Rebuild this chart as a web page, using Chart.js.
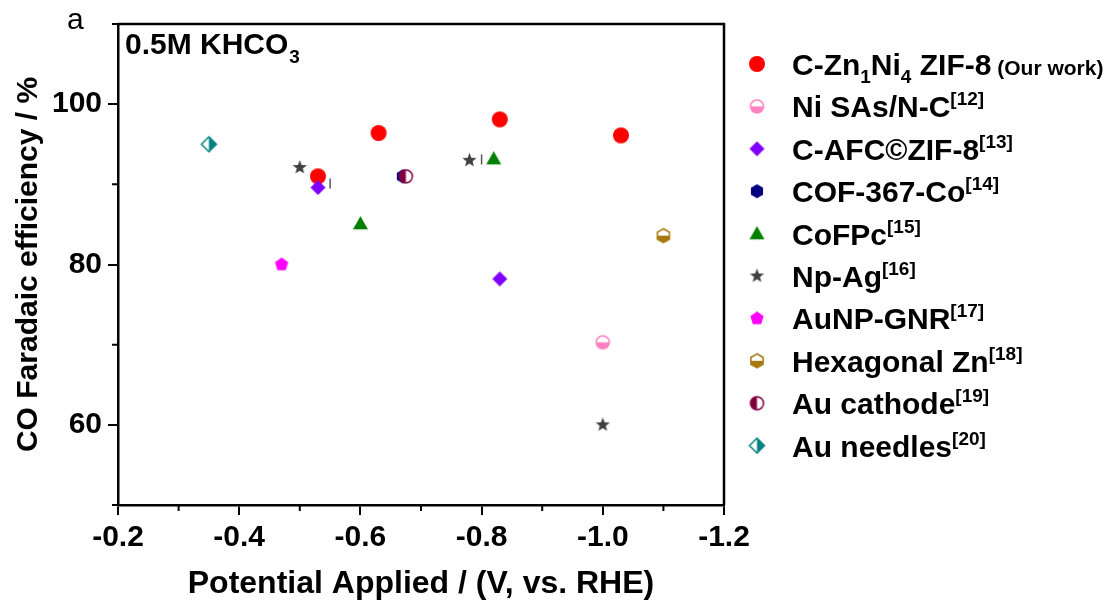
<!DOCTYPE html>
<html lang="en">
<head>
    <meta charset="UTF-8">
    <title>CO Faradaic efficiency vs potential</title>
    <style>
        body { margin: 0; background: #fff; }
        #wrap { width: 1118px; height: 608px; }
    </style>
</head>
<body>
    <div id="wrap"><canvas id="feChart"></canvas></div>

    <script src="https://cdn.jsdelivr.net/npm/chart.js"></script>
    <script>
        // axis ticks
        const xMajorTicks = [-0.2, -0.4, -0.6, -0.8, -1.0, -1.2];
        const xMinorTicks = [-0.3, -0.5, -0.7, -0.9, -1.1];
        const yMajorTicks = [60, 80, 100];
        const yMinorTicks = [50, 70, 90, 110];

        // data (potential V vs RHE, FE %)
        const ourWorkX = [-0.53, -0.63, -0.83, -1.03];
        const ourWorkY = [91.0, 96.4, 98.1, 96.1];
        const niSasX = [-1.0];
        const niSasY = [70.3];
        const afcX = [-0.53, -0.83];
        const afcY = [89.6, 78.2];
        const cofX = [-0.67];
        const cofY = [91.0];
        const cofpcX = [-0.60, -0.82];
        const cofpcY = [85.1, 93.2];
        const npAgX = [-0.50, -0.78, -1.0];
        const npAgY = [92.1, 93.0, 60.0];
        const aunpX = [-0.47];
        const aunpY = [80.0];
        const hexZnX = [-1.10];
        const hexZnY = [83.6];
        const auCathX = [-0.675];
        const auCathY = [91.0];
        const auNeedX = [-0.35];
        const auNeedY = [95.0];
        // the two little bar marks next to some points
        const barX = [-0.55, -0.80];
        const barY = [90.1, 93.1];

        // legend labels, [text, kind]
        const legendLabels = [
            [['C-Zn', 'n'], ['1', 'sub'], ['Ni', 'n'], ['4', 'sub'], [' ZIF-8', 'n'], [' (Our work)', 'small']],
            [['Ni SAs/N-C', 'n'], ['[12]', 'sup']],
            [['C-AFC\u00A9ZIF-8', 'n'], ['[13]', 'sup']],
            [['COF-367-Co', 'n'], ['[14]', 'sup']],
            [['CoFPc', 'n'], ['[15]', 'sup']],
            [['Np-Ag', 'n'], ['[16]', 'sup']],
            [['AuNP-GNR', 'n'], ['[17]', 'sup']],
            [['Hexagonal Zn', 'n'], ['[18]', 'sup']],
            [['Au cathode', 'n'], ['[19]', 'sup']],
            [['Au needles', 'n'], ['[20]', 'sup']]
        ];

        const FONT = '"Liberation Sans", Arial, sans-serif';

        // build a marker image (shape, colour, which part is filled)
        function makeMarker(shape, color, fillPart, size) {
            const c = document.createElement('canvas');
            c.width = c.height = size + 4;
            const g = c.getContext('2d');
            const m = (size + 4) / 2, r = size / 2;
            g.translate(m, m);
            g.beginPath();
            if (shape === 'circle') {
                g.arc(0, 0, r, 0, Math.PI * 2);
            } else if (shape === 'diamond') {
                g.moveTo(0, -r); g.lineTo(r, 0); g.lineTo(0, r); g.lineTo(-r, 0);
            } else if (shape === 'triangle') {
                g.moveTo(0, -r); g.lineTo(r, r * 0.75); g.lineTo(-r, r * 0.75);
            } else if (shape === 'star') {
                for (let k = 0; k < 10; k++) {
                    const a = -Math.PI / 2 + k * Math.PI / 5;
                    const rr = k % 2 ? r * 0.42 : r;
                    g.lineTo(rr * Math.cos(a), rr * Math.sin(a));
                }
            } else {
                const n = shape === 'pentagon' ? 5 : 6;
                for (let k = 0; k < n; k++) {
                    const a = -Math.PI / 2 + k * 2 * Math.PI / n;
                    g.lineTo(r * Math.cos(a), r * Math.sin(a));
                }
            }
            g.closePath();
            if (fillPart === 'full') {
                g.fillStyle = color;
                g.fill();
            } else {
                g.fillStyle = '#fff';
                g.fill();
                g.save();
                g.clip();
                g.fillStyle = color;
                if (fillPart === 'bottom') g.fillRect(-m, 0, 2 * m, m);
                if (fillPart === 'left') g.fillRect(-m, -m, m, 2 * m);
                if (fillPart === 'right') g.fillRect(0, -m, m, 2 * m);
                g.restore();
                g.strokeStyle = color;
                g.lineWidth = 1.5;
                g.stroke();
            }
            return c;
        }

        const markers = [
            makeMarker('circle', '#ff0000', 'full', 16),
            makeMarker('circle', '#ff80c0', 'bottom', 13),
            makeMarker('diamond', '#8000ff', 'full', 15),
            makeMarker('hexagon', '#000080', 'full', 14),
            makeMarker('triangle', '#008000', 'full', 15),
            makeMarker('star', '#404040', 'full', 15),
            makeMarker('pentagon', '#ff00ff', 'full', 14),
            makeMarker('hexagon', '#a87810', 'bottom', 14),
            makeMarker('circle', '#800040', 'left', 13),
            makeMarker('diamond', '#008080', 'right', 15)
        ];

        const seriesX = [ourWorkX, niSasX, afcX, cofX, cofpcX, npAgX, aunpX, hexZnX, auCathX, auNeedX];
        const seriesY = [ourWorkY, niSasY, afcY, cofY, cofpcY, npAgY, aunpY, hexZnY, auCathY, auNeedY];

        const datasets = seriesX.map((xs, i) => ({
            label: legendLabels[i].map(s => s[0]).join(''),
            data: xs.map((v, j) => ({ x: v, y: seriesY[i][j] })),
            pointStyle: markers[i],
            pointRadius: 6,
            order: 20 - i
        }));
        datasets.push({
            label: 'bars',
            data: barX.map((v, j) => ({ x: v, y: barY[j] })),
            pointStyle: 'line',
            rotation: 90,
            pointRadius: 5,
            borderColor: '#555',
            borderWidth: 1.5,
            order: 30
        });

        function drawRich(ctx, segs, x, y) {
            segs.forEach(([t, kind]) => {
                let dy = 0;
                if (kind === 'n') ctx.font = 'bold 30px ' + FONT;
                if (kind === 'small') ctx.font = 'bold 21px ' + FONT;
                if (kind === 'sub') { ctx.font = 'bold 19px ' + FONT; dy = 8; }
                if (kind === 'sup') { ctx.font = 'bold 19px ' + FONT; dy = -12; }
                ctx.fillText(t, x, y + dy);
                x += ctx.measureText(t).width;
            });
        }

        const decor = {
            id: 'decor',
            afterDraw(chart) {
                const { ctx, chartArea: a, scales: { x, y } } = chart;
                ctx.save();
                ctx.strokeStyle = '#000';
                ctx.lineWidth = 2.5;
                ctx.beginPath();
                ctx.moveTo(a.left, a.top);
                ctx.lineTo(a.right, a.top);
                ctx.lineTo(a.right, a.bottom);
                ctx.stroke();

                // minor ticks
                ctx.lineWidth = 2;
                ctx.beginPath();
                xMinorTicks.forEach(v => {
                    const px = x.getPixelForValue(v);
                    ctx.moveTo(px, a.bottom);
                    ctx.lineTo(px, a.bottom + 6);
                });
                yMinorTicks.forEach(v => {
                    const py = y.getPixelForValue(v);
                    ctx.moveTo(a.left - 6, py);
                    ctx.lineTo(a.left, py);
                });
                ctx.stroke();

                ctx.fillStyle = '#000';
                ctx.textBaseline = 'alphabetic';
                ctx.textAlign = 'left';
                // panel letter
                ctx.font = '30px ' + FONT;
                ctx.fillText('a', 67, 29);
                // electrolyte note
                ctx.font = 'bold 30px ' + FONT;
                ctx.fillText('0.5M KHCO', a.left + 7, 54);
                const w = ctx.measureText('0.5M KHCO').width;
                ctx.font = 'bold 19px ' + FONT;
                ctx.fillText('3', a.left + 7 + w + 1, 63);

                // legend
                legendLabels.forEach((segs, i) => {
                    const cy = 64 + i * 42.4;
                    const mk = markers[i];
                    ctx.drawImage(mk, 757 - mk.width / 2, cy - mk.height / 2);
                    drawRich(ctx, segs, 792, cy + 11);
                });
                ctx.restore();
            }
        };

        new Chart(document.getElementById('feChart'), {
            type: 'scatter',
            data: { datasets: datasets },
            options: {
                responsive: true,
                maintainAspectRatio: false,
                animation: false,
                layout: { padding: { left: 0, right: 394, top: 20, bottom: 0 } },
                plugins: { legend: { display: false }, tooltip: { enabled: false } },
                scales: {
                    x: {
                        type: 'linear',
                        min: -1.2,
                        max: -0.2,
                        reverse: true,
                        afterFit: s => { s.height = 103; },
                        afterBuildTicks: s => { s.ticks = xMajorTicks.map(v => ({ value: v })); },
                        border: { display: true, color: '#000', width: 2.5 },
                        grid: { drawOnChartArea: false, drawTicks: true, tickLength: 10, color: '#000', lineWidth: 2 },
                        ticks: {
                            color: '#000',
                            padding: 5,
                            maxRotation: 0,
                            font: { family: FONT, size: 30, weight: 'bold' },
                            callback: v => v.toFixed(1)
                        },
                        title: {
                            display: true,
                            text: 'Potential Applied / (V, vs. RHE)',
                            color: '#000',
                            font: { family: FONT, size: 32, weight: 'bold' },
                            padding: { top: 0, bottom: 5 }
                        }
                    },
                    y: {
                        min: 50,
                        max: 110,
                        afterFit: s => { s.width = 118; },
                        afterBuildTicks: s => { s.ticks = yMajorTicks.map(v => ({ value: v })); },
                        border: { display: true, color: '#000', width: 2.5 },
                        grid: { drawOnChartArea: false, drawTicks: true, tickLength: 10, color: '#000', lineWidth: 2 },
                        ticks: {
                            color: '#000',
                            padding: 6,
                            font: { family: FONT, size: 30, weight: 'bold' },
                            callback: v => String(v)
                        },
                        title: {
                            display: true,
                            text: 'CO Faradaic efficiency / %',
                            color: '#000',
                            font: { family: FONT, size: 30, weight: 'bold' },
                            padding: { top: 11, bottom: 0 }
                        }
                    }
                }
            },
            plugins: [decor]
        });
    </script>
</body>
</html>
